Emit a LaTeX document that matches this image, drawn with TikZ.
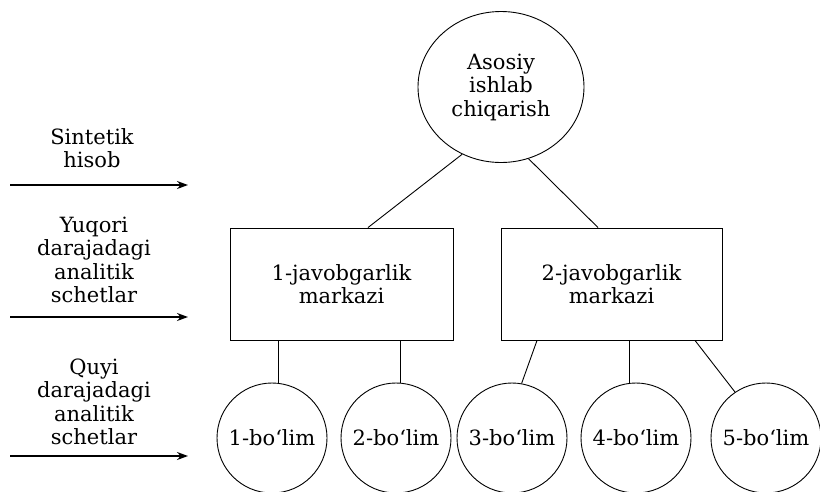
\documentclass[tikz,border=0pt]{standalone}
\usepackage{fontspec}
\setmainfont{DejaVu Serif}
\usetikzlibrary{arrows.meta,shapes.geometric}
\begin{document}
\begin{tikzpicture}[x=1pt,y=-1pt,
  lab/.style={align=center,inner sep=0pt,font=\fontsize{21}{23.5}\selectfont},
  shp/.style={draw,line width=0.9pt},
  conn/.style={line width=0.9pt},
  lvl/.style={line width=1.5pt,-{Stealth[length=11pt,width=8pt]}}]
\useasboundingbox (0,0) rectangle (820,491);
% top ellipse
\node[shp,ellipse,minimum width=166pt,minimum height=151pt,lab] (top) at (501,87) {Asosiy\\ishlab\\chiqarish};
% boxes
\node[shp,rectangle,minimum width=223pt,minimum height=112pt,lab] (b1) at (341.5,284) {1-javobgarlik\\markazi};
\node[shp,rectangle,minimum width=221pt,minimum height=112pt,lab] (b2) at (611.5,284) {2-javobgarlik\\markazi};
% circles
\node[shp,circle,minimum size=110pt,lab] (c1) at (272,438) {1-bo‘lim};
\node[shp,circle,minimum size=110pt,lab] (c2) at (396,438) {2-bo‘lim};
\node[shp,circle,minimum size=110pt,lab] (c3) at (512,438) {3-bo‘lim};
\node[shp,circle,minimum size=110pt,lab] (c4) at (636,438) {4-bo‘lim};
\node[shp,circle,minimum size=110pt,lab] (c5) at (766,438) {5-bo‘lim};
% connectors
\draw[conn] (top.240) -- ([xshift=26.5pt]b1.north);
\draw[conn] (top.291) -- ([xshift=-13.5pt]b2.north);
\draw[conn] (c1.83) -- (c1.83 |- b1.south);
\draw[conn] (c2.85) -- (c2.85 |- b1.south);
\draw[conn] (c3.80) -- ([xshift=-74.5pt]b2.south);
\draw[conn] (c4.97) -- (c4.97 |- b2.south);
\draw[conn] (c5.124) -- ([xshift=83.5pt]b2.south);
% left level labels
\node[lab] (l1) at (92,148) {Sintetik\\hisob};
\node[lab] (l2) at (94,260) {Yuqori\\darajadagi\\analitik\\schetlar};
\node[lab] (l3) at (94,402) {Quyi\\darajadagi\\analitik\\schetlar};
\coordinate (a1s) at (10,185); \coordinate (a1e) at (188,185);
\coordinate (a2s) at (10,317); \coordinate (a2e) at (188,317);
\coordinate (a3s) at (10,456); \coordinate (a3e) at (188,456);
\draw[lvl] (a1s) -- (a1e);
\draw[lvl] (a2s) -- (a2e);
\draw[lvl] (a3s) -- (a3e);
\end{tikzpicture}
\end{document}
